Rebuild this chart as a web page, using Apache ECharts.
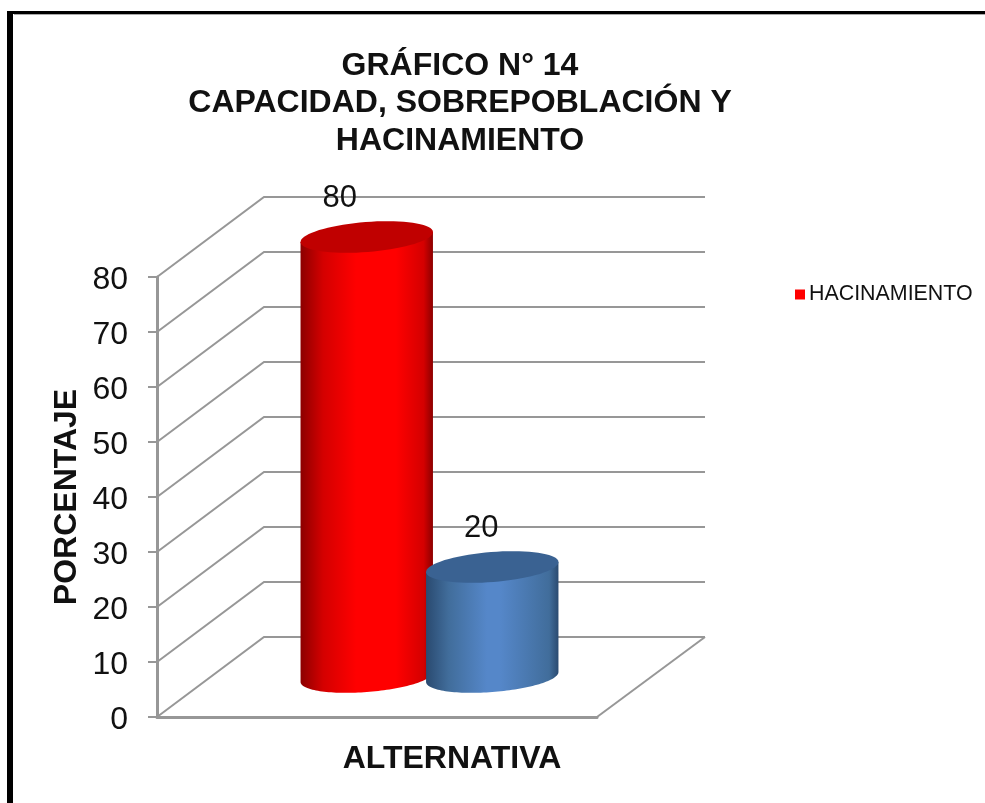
<!DOCTYPE html>
<html><head><meta charset="utf-8">
<style>html,body{margin:0;padding:0;background:#fff}#c{width:985px;height:803px}</style>
<script src="https://cdn.jsdelivr.net/npm/echarts@6/dist/echarts.min.js"></script>
</head><body><div id="c"></div>
<script>
const titleText = "GRÁFICO N° 14\nCAPACIDAD, SOBREPOBLACIÓN Y\nHACINAMIENTO";
const seriesName = "HACINAMIENTO";
const xAxisName = "ALTERNATIVA";
const yAxisName = "PORCENTAJE";
const categories = ["Alternativa 1", "Alternativa 2"];
const values = [80, 20];
const yTicks = [0, 10, 20, 30, 40, 50, 60, 70, 80];

const FONT = '"Liberation Sans", Arial, sans-serif';
const GRAY = '#979797';
const DEPTH = {dx: 107, dy: -80, right: 108};
const labelDx = [-27, -11];
const palette = [
  {top: '#c00000', edge: '#8c0000', mid: '#d40000', light: '#ff0000', s: 0.42, e: 0.72},
  {top: '#3a6292', edge: '#2a4a70', mid: '#416d9b', light: '#5587c9', s: 0.46, e: 0.56}
];
const ell = {a: 66.4, b: 15, theta: -4.5 * Math.PI / 180};

function ellPoint(cx, cy, t) {
  const c = Math.cos(ell.theta), s = Math.sin(ell.theta);
  return [cx + ell.a * Math.cos(t) * c - ell.b * Math.sin(t) * s,
          cy + ell.a * Math.cos(t) * s + ell.b * Math.sin(t) * c];
}
function arc(cx, cy, from, to) {
  const pts = [];
  for (let i = 0; i <= 72; i++) pts.push(ellPoint(cx, cy, from + (to - from) * i / 72));
  return pts;
}
function renderWall(params, api) {
  const sys = params.coordSys;
  const v = api.value(1);
  const y = api.coord([0, v])[1];
  const x0 = sys.x;
  const bx = x0 + DEPTH.dx, by = y + DEPTH.dy;
  const style = {stroke: GRAY, lineWidth: 2, fill: null};
  const children = [{type: 'polyline', shape: {points: [[x0, y], [bx, by], [sys.x + sys.width + DEPTH.right, by]]}, style}];
  if (v === 0) children.push({type: 'line', shape: {x1: sys.x + sys.width, y1: y, x2: sys.x + sys.width + DEPTH.right, y2: by}, style});
  return {type: 'group', children};
}
function renderCyl(params, api) {
  const i = api.value(0), v = api.value(1);
  const top = api.coord([i, v]), bot = api.coord([i, 0]);
  const cx = top[0], p = palette[i];
  const t0 = Math.atan2(-ell.b * Math.sin(ell.theta), ell.a * Math.cos(ell.theta));
  const lower = arc(cx, bot[1], t0, t0 + Math.PI);
  const side = lower.concat([ellPoint(cx, top[1], t0 + Math.PI), ellPoint(cx, top[1], t0)]);
  const grad = new echarts.graphic.LinearGradient(0, 0, 1, 0, [
    {offset: 0, color: p.edge}, {offset: 0.17, color: p.mid}, {offset: p.s, color: p.light},
    {offset: p.e, color: p.light}, {offset: 0.93, color: p.mid}, {offset: 1, color: p.edge}]);
  return {type: 'group', children: [
    {type: 'polygon', shape: {points: side}, style: {fill: grad}},
    {type: 'polygon', shape: {points: arc(cx, top[1], 0, 2 * Math.PI)}, style: {fill: p.top}},
    {type: 'text', x: cx + labelDx[i], y: top[1] - 39, style: {text: String(v), fill: '#111', font: '31px ' + FONT, align: 'center', verticalAlign: 'middle'}}
  ]};
}

const chart = echarts.init(document.getElementById('c'), null, {renderer: 'canvas'});
chart.setOption({
  animation: false,
  backgroundColor: '#fff',
  title: {text: titleText, left: 455, top: 42, textAlign: 'center',
    textStyle: {fontFamily: FONT, fontWeight: 'bold', fontSize: 32, lineHeight: 37.5, color: '#111'}},
  legend: {data: [seriesName], left: 790, top: 279, itemWidth: 10, itemHeight: 10, itemGap: 5, icon: 'rect',
    textStyle: {fontFamily: FONT, fontSize: 21.4, color: '#111', padding: [0, 0, 0, -1]}},
  grid: [
    {left: 157, top: 277, width: 440, height: 440},
    {left: 304, top: 237, width: 251, height: 440}
  ],
  xAxis: [
    {type: 'category', gridIndex: 0, data: categories, name: xAxisName, nameLocation: 'middle', nameGap: 26,
      nameTextStyle: {fontFamily: FONT, fontWeight: 'bold', fontSize: 32, color: '#111', padding: [0, 0, 0, 150]},
      axisLine: {lineStyle: {color: GRAY, width: 3}}, axisTick: {show: false}, axisLabel: {show: false}},
    {type: 'category', gridIndex: 1, data: categories, show: false}
  ],
  yAxis: [
    {type: 'value', gridIndex: 0, min: yTicks[0], max: yTicks[yTicks.length - 1], interval: yTicks[1] - yTicks[0],
      name: yAxisName, nameLocation: 'middle', nameGap: 74,
      nameTextStyle: {fontFamily: FONT, fontWeight: 'bold', fontSize: 32, color: '#111'},
      axisLine: {show: true, lineStyle: {color: GRAY, width: 3}},
      axisTick: {show: true, length: 9, lineStyle: {color: GRAY, width: 2}},
      axisLabel: {margin: 29, formatter: '{t|{value}}',
        rich: {t: {fontFamily: FONT, fontSize: 32, color: '#111', padding: [7, 0, 0, 0]}}},
      splitLine: {show: false}},
    {type: 'value', gridIndex: 1, min: yTicks[0], max: yTicks[yTicks.length - 1], show: false}
  ],
  series: [
    {type: 'custom', name: 'muro', xAxisIndex: 0, yAxisIndex: 0, z: 1, silent: true, renderItem: renderWall,
      data: yTicks.map(v => [0, v])},
    {type: 'custom', name: seriesName, xAxisIndex: 1, yAxisIndex: 1, z: 3, renderItem: renderCyl,
      itemStyle: {color: '#ff0000'}, data: values.map((v, i) => [i, v])}
  ],
  graphic: [
    {type: 'rect', shape: {x: 14, y: 14, width: 971, height: 1}, style: {fill: '#aaa'}},
    {type: 'rect', shape: {x: 7, y: 11, width: 978, height: 3}, style: {fill: '#000'}},
    {type: 'rect', shape: {x: 7, y: 11, width: 6, height: 792}, style: {fill: '#000'}}
  ]
});
</script></body></html>
